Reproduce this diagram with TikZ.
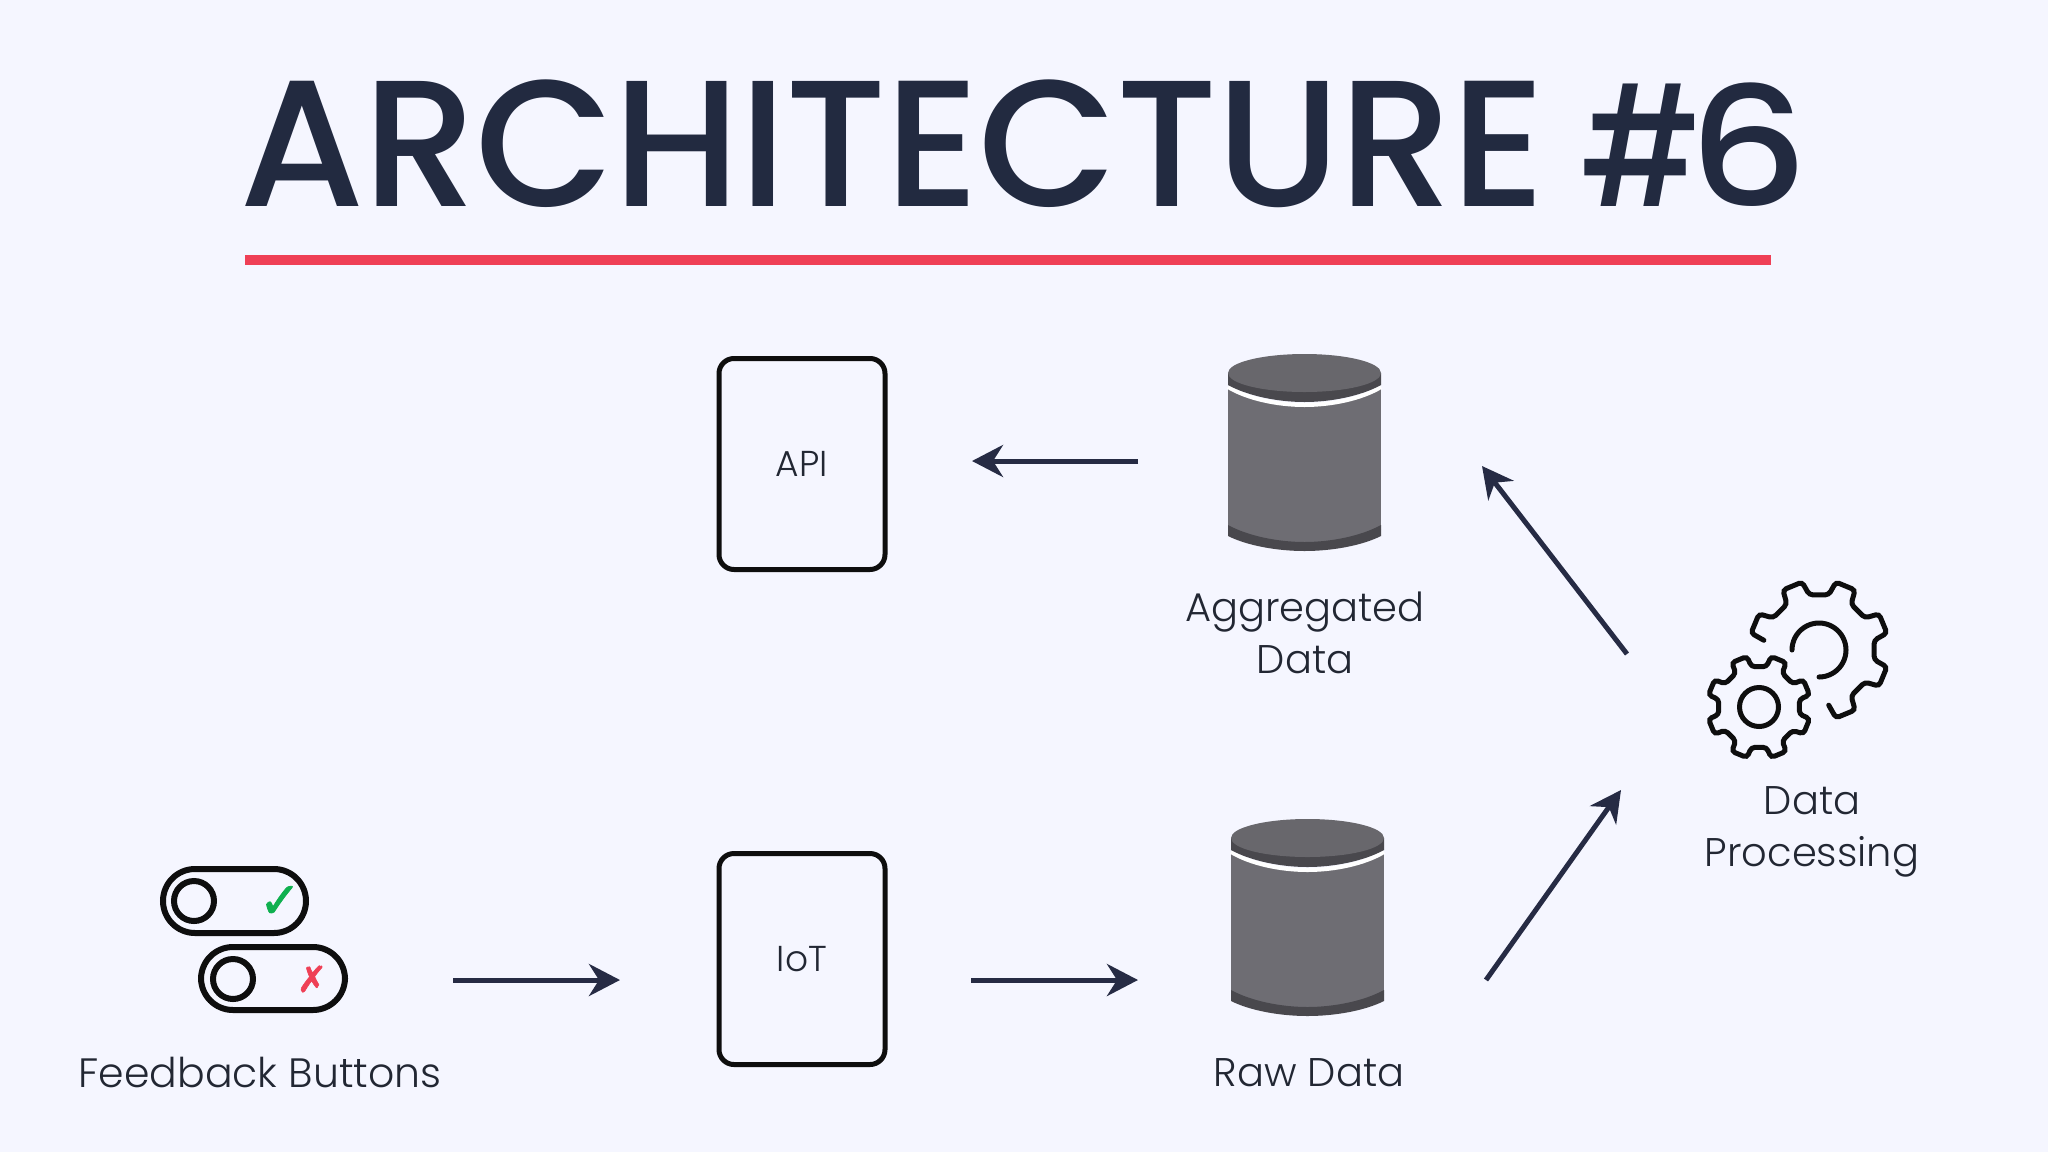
\documentclass[tikz,border=0pt]{standalone}
\usepackage{fontspec}
\usepackage{graphicx}
\usetikzlibrary{arrows.meta}
\setmainfont{Poppins Light}
\newfontfamily\titlefont[LetterSpace=-0.75]{Poppins Medium}
\newfontfamily\glyphfont[FakeBold=1.6]{DejaVu Sans}
\definecolor{bgc}{HTML}{F5F6FF}
\definecolor{titlec}{HTML}{222A40}
\definecolor{redc}{HTML}{EF4056}
\definecolor{arrowc}{HTML}{262B44}
\definecolor{inkc}{HTML}{0E0E0E}
\definecolor{textc}{HTML}{222733}
\definecolor{cylbody}{HTML}{6E6D73}
\definecolor{cyltop}{HTML}{68676C}
\definecolor{cyldark}{HTML}{49484D}
\definecolor{greenc}{HTML}{0FB04F}
\tikzset{
  flow/.style={draw=arrowc,line width=5pt,-{Stealth[length=31pt,width=32pt,inset=10pt]}},
  svcbox/.style={draw=inkc,line width=5pt,rounded corners=15pt,minimum width=166pt,minimum height=211pt,inner sep=0pt,text=textc,font=\fontsize{36}{44}\selectfont},
  lbl/.style={text=textc,font=\fontsize{40}{52}\selectfont,align=center,inner sep=0pt},
  pill/.style={draw=inkc,line width=6pt,rounded corners=32pt},
  knob/.style={draw=inkc,line width=6pt,circle,minimum size=40pt,inner sep=0pt},
  gearline/.style={draw=inkc,line width=5pt,rounded corners=3.5pt,line cap=round},
}
\newcommand{\cylinder}[3]{%
  \begin{scope}[shift={(#1,#2)}]
    \coordinate (#3) at (76.5,98);
    \fill[cylbody] (0,30) -- (0,180) -- (153,180) -- (153,30) -- cycle;
    \fill[cylbody] (0,175) .. controls (20,185) and (50,190) .. (76.5,190) .. controls (103,190) and (133,185) .. (153,175) -- cycle;
    \fill[cyldark] (0,171) -- (0,182) .. controls (20,192) and (50,197) .. (76.5,197) .. controls (103,197) and (133,192) .. (153,182) -- (153,171) .. controls (133,182) and (103,188) .. (76.5,188) .. controls (50,188) and (20,182) .. (0,171) -- cycle;
    \fill[bgc] (-1,0) -- (155,0) -- (155,33) .. controls (133,45) and (103,51) .. (76.5,51) .. controls (50,51) and (20,45) .. (-1,33) -- cycle;
    \draw[white,line width=4pt] (0,33) .. controls (20,45) and (50,51) .. (76.5,51) .. controls (103,51) and (133,45) .. (153,33);
    \fill[cyldark] (0,19) -- (0,31) .. controls (20,42) and (50,48) .. (76.5,48) .. controls (103,48) and (133,42) .. (153,31) -- (153,19) -- cycle;
    \fill[cyltop] (76.5,19) ellipse [x radius=76.5,y radius=19];
  \end{scope}}
\begin{document}
\begin{tikzpicture}[x=1pt,y=-1pt]
  \path[use as bounding box,fill=bgc] (0,0) rectangle (2048,1152);

  \node[anchor=base west,inner sep=0pt,text=titlec,font=\titlefont\fontsize{180}{190}\selectfont] (title) at (239,206) {ARCHITECTURE \hspace{-11pt}\scalebox{.78}[.92]{\#}\hspace{-14pt}\scalebox{1.04}[.92]{6}};
  \fill[redc] (245,255) rectangle (1771,265);

  \node[svcbox] (api) at (802,464) {API};
  \node[svcbox] (iot) at (802,959) {IoT};

  \cylinder{1228}{354}{agg}
  \cylinder{1231}{819}{raw}
  \node[lbl] (agglabel) at (1305,633) {Aggregated\\Data};
  \node[lbl] (rawlabel) at (1309,1073) {Raw Data};

  % feedback toggles
  \draw[pill] (163,869) rectangle (306,933);
  \draw[pill] (201,947) rectangle (345,1010);
  \node[knob] (knobA) at (194,901) {};
  \node[knob] (knobB) at (233,979) {};
  \node[inner sep=0pt,text=greenc,font=\glyphfont\fontsize{50}{50}\selectfont] (okmark) at (280,902) {✓};
  \node[inner sep=0pt,text=redc,font=\glyphfont\fontsize{36}{36}\selectfont] (nomark) at (312,979) {✗};
  \node[lbl,font=\fontsize{41}{52}\selectfont] (fblabel) at (260,1072) {Feedback Buttons};

  % gears
  \begin{scope}[shift={(1759,707)}]
    \coordinate (smallgear) at (0,0);
    \draw[gearline] (10:41) -- (13:52) -- (31:52) -- (35:41)
      \foreach \a in {67.5,112.5,157.5,202.5,247.5,292.5,337.5}{ -- ({\a-12}:41) -- ({\a-9}:52) -- ({\a+9}:52) -- ({\a+12}:41)} -- cycle;
    \node[draw=inkc,line width=5pt,circle,minimum size=39pt,inner sep=0pt] (smallhub) at (0,0) {};
  \end{scope}
  \begin{scope}[shift={(1819,650)}]
    \coordinate (biggear) at (0,0);
    \draw[gearline] (-170:56) -- (-166:70) -- (-149:70) -- (-145:56)
      \foreach \a in {-112.5,-67.5,-22.5,22.5,67.5}{ -- ({\a-12.5}:56) -- ({\a-8.5}:70) -- ({\a+8.5}:70) -- ({\a+12.5}:56)};
    \draw[draw=inkc,line width=5pt,line cap=round] plot[smooth,domain=-180:90,samples=40] (\x:27);
  \end{scope}
  \node[lbl] (proclabel) at (1812,832) {Data\\Processing};

  % connector ends
  \coordinate (a1s) at (453,980);  \coordinate (a1e) at (620,980);
  \coordinate (a2s) at (971,980);  \coordinate (a2e) at (1138,980);
  \coordinate (a3s) at (1138,461); \coordinate (a3e) at (972,461);
  \coordinate (a4s) at (1486,980); \coordinate (a4e) at (1621,790);
  \coordinate (a5s) at (1627,654); \coordinate (a5e) at (1482,466);
  \draw[flow] (a1s) -- (a1e);
  \draw[flow] (a2s) -- (a2e);
  \draw[flow] (a3s) -- (a3e);
  \draw[flow] (a4s) -- (a4e);
  \draw[flow] (a5s) -- (a5e);
\end{tikzpicture}
\end{document}
